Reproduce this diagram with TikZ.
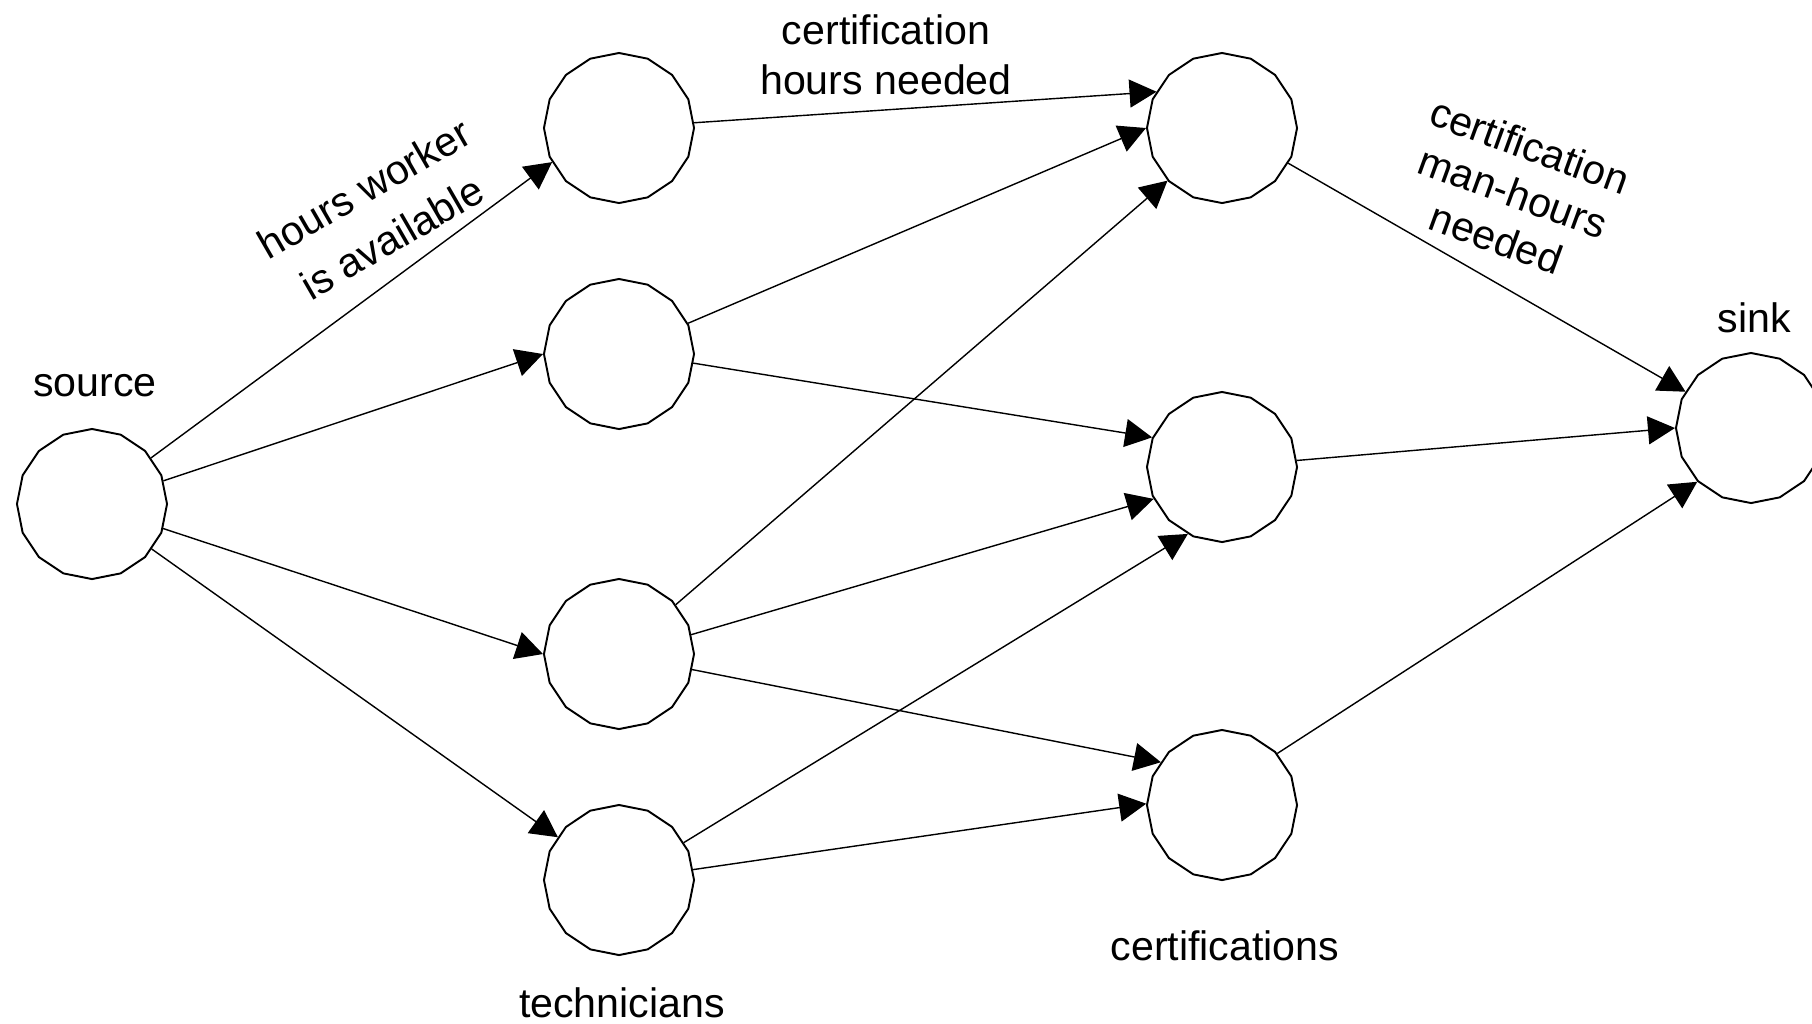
\documentclass[tikz,border=0pt]{standalone}
\usepackage{fontspec}
\setmainfont{Liberation Sans}
\usetikzlibrary{shapes.geometric, arrows.meta}

\begin{document}
\begin{tikzpicture}[x=0.01cm, y=-0.01cm, >={Triangle[length=2.7mm, width=2.8mm]},
    vtx/.style={draw, line width=0.55pt, regular polygon, regular polygon sides=16,
        shape border rotate=11.25, minimum size=1.5cm, inner sep=0pt},
    lbl/.style={font=\fontsize{11.7}{14}\selectfont, align=center},
    flow/.style={->, line width=0.4pt}]

    \useasboundingbox (0,0) rectangle (1812,1023);

    % --- Vertices ---
    \foreach \name/\x/\y in {
        src/92/504,
        t1/619/128,
        t2/619/354,
        t3/619/654,
        t4/619/880,
        c1/1222/128,
        c2/1222/467,
        c3/1222/805,
        sink/1751/428%
    } {
        \node[vtx] (\name) at (\x,\y) {};
    }

    % --- Labels ---
    \node[lbl, anchor=base] (srclbl) at (95,396) {source};
    \node[lbl, anchor=base] (techlbl) at (622,1017) {technicians};
    \node[lbl, anchor=base] (certlbl) at (1225,960) {certifications};
    \node[lbl, anchor=base] (sinklbl) at (1754,332) {sink};
    \node[lbl, font=\fontsize{11.7}{14.2}\selectfont] (hrsneed) at (886,55) {certification\\hours needed};
    \node[lbl, font=\fontsize{11.7}{16}\selectfont, rotate=30] (hrsavail) at (378,213) {hours worker\\is available};
    \node[lbl, font=\fontsize{11.7}{14}\selectfont, rotate=-20] (manhrs) at (1513,192) {certification\\man-hours\\needed};

    % --- Arcs (from/angle/to/angle) ---
    \foreach \a/\aa/\b/\ba in {
        src/38/t1/207,
        src/18/t2/180,
        src/341/t3/180,
        src/323/t4/145,
        t1/4/c1/151,
        t2/24/c1/180,
        t2/353/c2/157,
        t3/41/c1/224,
        t3/15/c2/205,
        t3/348/c3/145,
        t4/30/c2/243,
        t4/8/c3/179,
        c1/332/sink/151,
        c2/5/sink/180,
        c3/43/sink/225%
    } {
        \draw[flow] (\a.\aa) -- (\b.\ba);
    }

\end{tikzpicture}
\end{document}
